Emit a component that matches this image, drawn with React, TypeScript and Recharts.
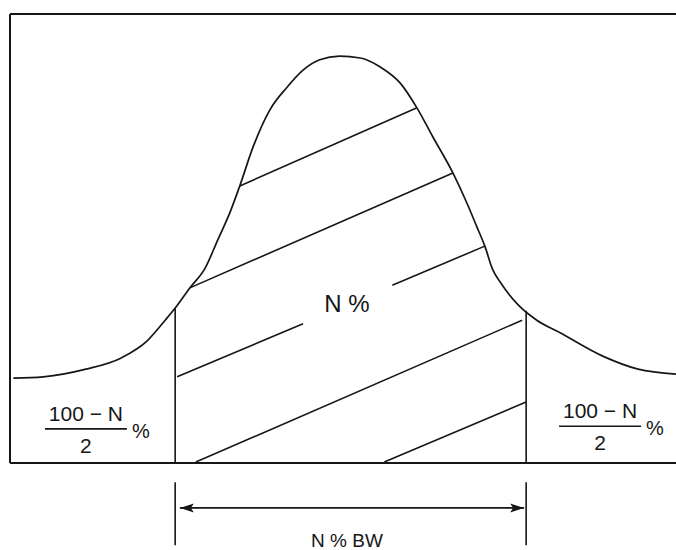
import { LineChart, Line, XAxis, YAxis, ReferenceLine, ReferenceDot } from "recharts";

// diagram units: x 0..100 across the frame, y 0 (bottom line) .. 100 (top line)
const curveX = [0.5, 5, 11.4, 16.7, 20.6, 23.3, 24.8, 27, 29.3, 31.2, 33, 34.5, 36.5, 39, 41.6, 44, 46.5, 49.5, 52.6, 55.6, 58.6, 61.1, 63.5, 66.5, 68.6, 70.1, 71.3, 72.5, 73.6, 76.3, 79.1, 82.6, 89, 94.3, 100];
const curveY = [18.9, 19.2, 20.9, 23.4, 27.2, 31.8, 34.5, 39, 43.4, 49.7, 55.7, 61.7, 70.4, 78.6, 83.7, 87.5, 89.8, 90.6, 90.2, 88.2, 84.6, 79.1, 72.6, 64.6, 57.9, 52.6, 48.3, 43, 40.3, 35.2, 31.8, 29, 23.8, 20.9, 19.8];

// band limits (the two verticals)
const bandX = [24.8, 77.5];
const bandTop = [34.5, 33.9];

// hatch strokes: x1, y1, x2, y2
const hatches: [number, number, number, number][] = [
  [34.5, 61.7, 61.1, 79.1],
  [27.0, 39.0, 66.5, 64.6],
  [25.1, 19.2, 44.0, 31.0],
  [57.4, 39.6, 71.3, 48.3],
  [27.9, 0.2, 76.9, 31.8],
  [56.2, 0.2, 77.5, 13.6],
];

// dimension below the frame
const tickTop = -4.3;
const tickBottom = -18.3;
const arrowY = -10;
const arrowX = [25.5, 77.2];

const labelText = ["N %", "N % BW"];
const labelX = [50.6, 50.6];
const labelY = [35.6, -17.1];
const labelSize = [24, 19];

const fractionX = [11.4, 88.6];
const fractionY = [7.6, 8.2];

const data = curveX.map((x, i) => ({ x, y: curveY[i] }));

const INK = "#161616";
const FONT = "'Liberation Sans', Arial, sans-serif";

const Arrow = (p: any) => {
  const { x1, y1, x2, y2 } = p;
  return (
    <g>
      <line x1={x1} y1={y1} x2={x2} y2={y2} stroke={INK} strokeWidth={1.8} />
      <path d={`M${x1},${y1} l14,-4.5 l-3,4.5 l3,4.5 z`} fill={INK} />
      <path d={`M${x2},${y2} l-14,-4.5 l3,4.5 l-3,4.5 z`} fill={INK} />
    </g>
  );
};

const Fraction = (p: any) => {
  const { cx, cy } = p;
  return (
    <g fill={INK} fontFamily={FONT} fontSize={21}>
      <text x={cx} y={cy - 8} textAnchor="middle">100 − N</text>
      <line x1={cx - 41} x2={cx + 41} y1={cy} y2={cy} stroke={INK} strokeWidth={1.6} />
      <text x={cx} y={cy + 24} textAnchor="middle">2</text>
      <text x={cx + 46} y={cy + 9} fontSize={20}>%</text>
    </g>
  );
};

export default function App() {
  return (
    <div style={{ position: "absolute", left: 0, top: 0, background: "#fff" }}>
      <LineChart width={676} height={550} data={data} margin={{ top: 14, right: 0, left: 10, bottom: 87 }}>
        <XAxis type="number" dataKey="x" domain={[0, 100]} hide />
        <YAxis type="number" domain={[0, 100]} hide />

        {/* frame: top, left, bottom */}
        <ReferenceLine y={100} stroke={INK} strokeWidth={2} ifOverflow="visible" />
        <ReferenceLine x={0} stroke={INK} strokeWidth={2} ifOverflow="visible" />
        <ReferenceLine y={0} stroke={INK} strokeWidth={2} ifOverflow="visible" />

        {bandX.map((x, i) => (
          <ReferenceLine key={`v${i}`} segment={[{ x, y: 0 }, { x, y: bandTop[i] }]} stroke={INK} strokeWidth={1.6} ifOverflow="visible" />
        ))}
        {bandX.map((x, i) => (
          <ReferenceLine key={`t${i}`} segment={[{ x, y: tickTop }, { x, y: tickBottom }]} stroke={INK} strokeWidth={1.6} ifOverflow="visible" />
        ))}
        {hatches.map(([x1, y1, x2, y2], i) => (
          <ReferenceLine key={`h${i}`} segment={[{ x: x1, y: y1 }, { x: x2, y: y2 }]} stroke={INK} strokeWidth={1.6} ifOverflow="visible" />
        ))}
        <ReferenceLine segment={[{ x: arrowX[0], y: arrowY }, { x: arrowX[1], y: arrowY }]} ifOverflow="visible" shape={Arrow} />

        <Line type="monotone" dataKey="y" stroke={INK} strokeWidth={1.7} dot={false} activeDot={false} isAnimationActive={false} />

        {labelText.map((t, i) => (
          <ReferenceDot
            key={`l${i}`}
            x={labelX[i]}
            y={labelY[i]}
            r={0}
            ifOverflow="visible"
            shape={(p: any) => (
              <text x={p.cx} y={p.cy + labelSize[i] * 0.36} textAnchor="middle" fontFamily={FONT} fontSize={labelSize[i]} fill={INK}>
                {t}
              </text>
            )}
          />
        ))}
        {fractionX.map((x, i) => (
          <ReferenceDot key={`f${i}`} x={x} y={fractionY[i]} r={0} ifOverflow="visible" shape={Fraction} />
        ))}
      </LineChart>
    </div>
  );
}
